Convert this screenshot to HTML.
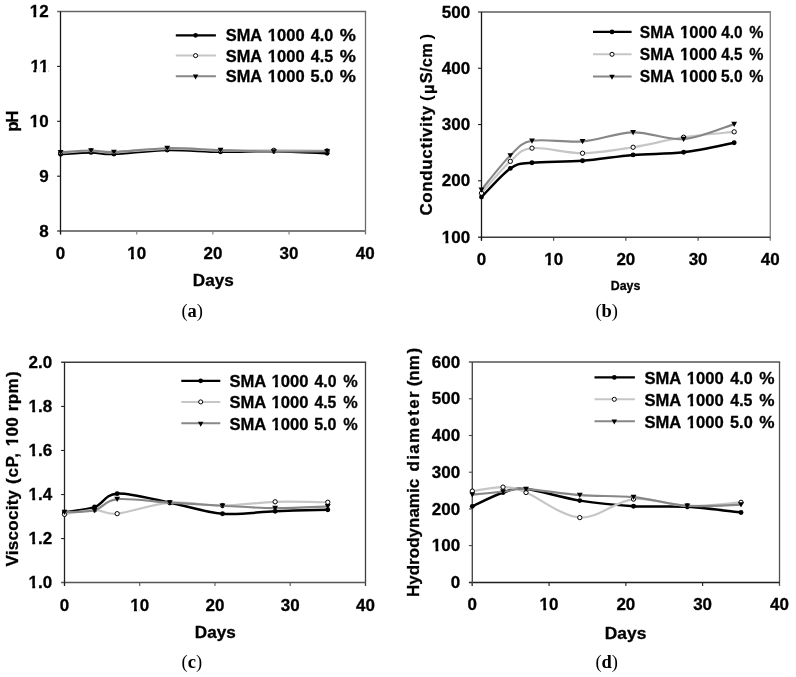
<!DOCTYPE html>
<html><head><meta charset="utf-8"><title>Figure</title>
<style>
html,body{margin:0;padding:0;background:#fff;}
svg{display:block;will-change:transform;}
text{font-family:"Liberation Sans", sans-serif;font-weight:bold;fill:#000;stroke:#000;stroke-width:0.3px;}
</style></head>
<body>
<svg width="796" height="677" viewBox="0 0 796 677">
<rect width="796" height="677" fill="#fff"/>
<line x1="57.10" y1="11.50" x2="366.15" y2="11.50" stroke="#666" stroke-width="1.30"/>
<line x1="365.50" y1="11.50" x2="365.50" y2="234.40" stroke="#6a6a6a" stroke-width="1.30"/>
<line x1="57.10" y1="231.00" x2="365.50" y2="231.00" stroke="#7d7d7d" stroke-width="2.00"/>
<line x1="60.60" y1="231.00" x2="60.60" y2="234.40" stroke="#7d7d7d" stroke-width="1.1"/>
<line x1="136.75" y1="231.00" x2="136.75" y2="234.40" stroke="#7d7d7d" stroke-width="1.1"/>
<line x1="212.90" y1="231.00" x2="212.90" y2="234.40" stroke="#7d7d7d" stroke-width="1.1"/>
<line x1="289.05" y1="231.00" x2="289.05" y2="234.40" stroke="#7d7d7d" stroke-width="1.1"/>
<line x1="60.50" y1="11.50" x2="60.50" y2="234.40" stroke="#151515" stroke-width="1.30"/>
<line x1="57.10" y1="176.20" x2="60.50" y2="176.20" stroke="#151515" stroke-width="1.1"/>
<line x1="57.10" y1="121.30" x2="60.50" y2="121.30" stroke="#151515" stroke-width="1.1"/>
<line x1="57.10" y1="66.40" x2="60.50" y2="66.40" stroke="#151515" stroke-width="1.1"/>
<text x="48.60" y="236.70" text-anchor="end" font-size="17">8</text>
<text x="48.60" y="181.80" text-anchor="end" font-size="17">9</text>
<text x="48.60" y="126.90" text-anchor="end" font-size="17">10</text>
<text x="48.60" y="72.00" text-anchor="end" font-size="17">11</text>
<text x="48.60" y="17.10" text-anchor="end" font-size="17">12</text>
<text x="60.60" y="259.10" text-anchor="middle" font-size="17">0</text>
<text x="136.75" y="259.10" text-anchor="middle" font-size="17">10</text>
<text x="212.90" y="259.10" text-anchor="middle" font-size="17">20</text>
<text x="289.05" y="259.10" text-anchor="middle" font-size="17">30</text>
<text x="365.20" y="259.10" text-anchor="middle" font-size="17">40</text>
<text transform="translate(18.10,121.00) rotate(-90)" text-anchor="middle" font-size="17" textLength="21.30" lengthAdjust="spacing">pH</text>
<text x="192.80" y="285.50" font-size="16.6" textLength="41.00" lengthAdjust="spacingAndGlyphs">Days</text>
<text x="181.40" y="316.90" style='font-family:"Liberation Serif", serif;font-weight:normal;stroke:none' font-size="18.5">(<tspan style="font-weight:bold">a</tspan>)</text>
<line x1="175.80" y1="35.30" x2="215.90" y2="35.30" stroke="#000000" stroke-width="2.30"/>
<circle cx="195.60" cy="35.30" r="2.33" fill="#000"/>
<text y="41.40" font-size="16.6"><tspan x="225.72" textLength="36.42" lengthAdjust="spacingAndGlyphs">SMA</tspan><tspan x="267.85" textLength="36.83" lengthAdjust="spacingAndGlyphs">1000</tspan><tspan x="310.85" textLength="22.43" lengthAdjust="spacingAndGlyphs">4.0</tspan><tspan x="339.69" textLength="16.15" lengthAdjust="spacingAndGlyphs">%</tspan></text>
<line x1="175.80" y1="55.60" x2="215.90" y2="55.60" stroke="#c6c6c6" stroke-width="2.00"/>
<circle cx="195.60" cy="55.60" r="2.04" fill="#fff" stroke="#000" stroke-width="1.0"/>
<text y="61.70" font-size="16.6"><tspan x="225.72" textLength="36.42" lengthAdjust="spacingAndGlyphs">SMA</tspan><tspan x="267.85" textLength="36.83" lengthAdjust="spacingAndGlyphs">1000</tspan><tspan x="310.85" textLength="22.21" lengthAdjust="spacingAndGlyphs">4.5</tspan><tspan x="339.69" textLength="16.15" lengthAdjust="spacingAndGlyphs">%</tspan></text>
<line x1="175.80" y1="76.20" x2="215.90" y2="76.20" stroke="#878787" stroke-width="2.00"/>
<path d="M192.84,74.62 L198.35,74.62 L195.60,79.56 Z" fill="#000"/>
<text y="82.30" font-size="16.6"><tspan x="225.72" textLength="36.42" lengthAdjust="spacingAndGlyphs">SMA</tspan><tspan x="267.85" textLength="36.83" lengthAdjust="spacingAndGlyphs">1000</tspan><tspan x="310.59" textLength="22.69" lengthAdjust="spacingAndGlyphs">5.0</tspan><tspan x="339.69" textLength="16.15" lengthAdjust="spacingAndGlyphs">%</tspan></text>
<rect x="29.68" y="123.87" width="3.68" height="4.23" fill="#fff"/>
<rect x="36.29" y="123.87" width="2.88" height="4.23" fill="#fff"/>
<rect x="29.68" y="68.97" width="3.68" height="4.23" fill="#fff"/>
<rect x="36.29" y="68.97" width="2.88" height="4.23" fill="#fff"/>
<rect x="39.14" y="68.97" width="3.68" height="4.23" fill="#fff"/>
<rect x="45.75" y="68.97" width="2.88" height="4.23" fill="#fff"/>
<rect x="29.68" y="14.07" width="3.68" height="4.23" fill="#fff"/>
<rect x="36.29" y="14.07" width="2.88" height="4.23" fill="#fff"/>
<rect x="127.29" y="256.07" width="3.68" height="4.23" fill="#fff"/>
<rect x="133.90" y="256.07" width="2.88" height="4.23" fill="#fff"/>
<rect x="267.85" y="38.41" width="3.57" height="4.19" fill="#fff"/>
<rect x="274.29" y="38.41" width="2.80" height="4.19" fill="#fff"/>
<rect x="267.85" y="58.71" width="3.57" height="4.19" fill="#fff"/>
<rect x="274.29" y="58.71" width="2.80" height="4.19" fill="#fff"/>
<rect x="267.85" y="79.31" width="3.57" height="4.19" fill="#fff"/>
<rect x="274.29" y="79.31" width="2.80" height="4.19" fill="#fff"/>
<path d="M60.60,154.20 C65.68,153.90 82.18,152.43 91.06,152.40 C99.94,152.37 101.21,154.40 113.91,154.00 C126.60,153.60 149.44,150.37 167.21,150.00 C184.98,149.63 202.75,151.60 220.51,151.80 C238.28,152.00 256.05,150.95 273.82,151.20 C291.59,151.45 318.24,152.95 327.12,153.30" fill="none" stroke="#000000" stroke-width="2.50" stroke-linejoin="round" stroke-linecap="round"/>
<circle cx="60.60" cy="154.20" r="2.45" fill="#000"/>
<circle cx="91.06" cy="152.40" r="2.45" fill="#000"/>
<circle cx="113.91" cy="154.00" r="2.45" fill="#000"/>
<circle cx="167.21" cy="150.00" r="2.45" fill="#000"/>
<circle cx="220.51" cy="151.80" r="2.45" fill="#000"/>
<circle cx="273.82" cy="151.20" r="2.45" fill="#000"/>
<circle cx="327.12" cy="153.30" r="2.45" fill="#000"/>
<path d="M60.60,152.80 C65.68,152.50 82.18,151.05 91.06,151.00 C99.94,150.95 101.21,152.87 113.91,152.50 C126.60,152.13 149.44,149.12 167.21,148.80 C184.98,148.48 202.75,150.35 220.51,150.60 C238.28,150.85 256.05,150.25 273.82,150.30 C291.59,150.35 318.24,150.80 327.12,150.90" fill="none" stroke="#c6c6c6" stroke-width="2.20" stroke-linejoin="round" stroke-linecap="round"/>
<circle cx="60.60" cy="152.80" r="2.15" fill="#fff" stroke="#000" stroke-width="1.0"/>
<circle cx="91.06" cy="151.00" r="2.15" fill="#fff" stroke="#000" stroke-width="1.0"/>
<circle cx="113.91" cy="152.50" r="2.15" fill="#fff" stroke="#000" stroke-width="1.0"/>
<circle cx="167.21" cy="148.80" r="2.15" fill="#fff" stroke="#000" stroke-width="1.0"/>
<circle cx="220.51" cy="150.60" r="2.15" fill="#fff" stroke="#000" stroke-width="1.0"/>
<circle cx="273.82" cy="150.30" r="2.15" fill="#fff" stroke="#000" stroke-width="1.0"/>
<circle cx="327.12" cy="150.90" r="2.15" fill="#fff" stroke="#000" stroke-width="1.0"/>
<path d="M60.60,152.30 C65.68,152.00 82.18,150.55 91.06,150.50 C99.94,150.45 101.21,152.38 113.91,152.00 C126.60,151.62 149.44,148.52 167.21,148.20 C184.98,147.88 202.75,149.55 220.51,150.10 C238.28,150.65 256.05,151.30 273.82,151.50 C291.59,151.70 318.24,151.33 327.12,151.30" fill="none" stroke="#878787" stroke-width="2.10" stroke-linejoin="round" stroke-linecap="round"/>
<path d="M57.70,149.96 L63.50,149.96 L60.60,155.16 Z" fill="#000"/>
<path d="M88.16,148.16 L93.96,148.16 L91.06,153.36 Z" fill="#000"/>
<path d="M111.00,149.66 L116.81,149.66 L113.91,154.86 Z" fill="#000"/>
<path d="M164.31,145.86 L170.11,145.86 L167.21,151.06 Z" fill="#000"/>
<path d="M217.61,147.76 L223.41,147.76 L220.51,152.96 Z" fill="#000"/>
<path d="M270.92,149.16 L276.72,149.16 L273.82,154.36 Z" fill="#000"/>
<path d="M324.23,148.96 L330.02,148.96 L327.12,154.16 Z" fill="#000"/>
<line x1="478.10" y1="12.00" x2="771.00" y2="12.00" stroke="#858585" stroke-width="1.80"/>
<line x1="770.30" y1="12.00" x2="770.30" y2="240.70" stroke="#888" stroke-width="1.40"/>
<line x1="478.10" y1="237.30" x2="770.30" y2="237.30" stroke="#3a3a3a" stroke-width="1.50"/>
<line x1="481.45" y1="237.30" x2="481.45" y2="240.70" stroke="#3a3a3a" stroke-width="1.1"/>
<line x1="553.66" y1="237.30" x2="553.66" y2="240.70" stroke="#3a3a3a" stroke-width="1.1"/>
<line x1="625.88" y1="237.30" x2="625.88" y2="240.70" stroke="#3a3a3a" stroke-width="1.1"/>
<line x1="698.09" y1="237.30" x2="698.09" y2="240.70" stroke="#3a3a3a" stroke-width="1.1"/>
<line x1="481.50" y1="12.00" x2="481.50" y2="240.70" stroke="#151515" stroke-width="1.30"/>
<line x1="478.10" y1="180.79" x2="481.50" y2="180.79" stroke="#151515" stroke-width="1.1"/>
<line x1="478.10" y1="124.53" x2="481.50" y2="124.53" stroke="#151515" stroke-width="1.1"/>
<line x1="478.10" y1="68.26" x2="481.50" y2="68.26" stroke="#151515" stroke-width="1.1"/>
<text x="470.20" y="242.65" text-anchor="end" font-size="17">100</text>
<text x="470.20" y="186.39" text-anchor="end" font-size="17">200</text>
<text x="470.20" y="130.12" text-anchor="end" font-size="17">300</text>
<text x="470.20" y="73.86" text-anchor="end" font-size="17">400</text>
<text x="470.20" y="17.60" text-anchor="end" font-size="17">500</text>
<text x="481.45" y="265.05" text-anchor="middle" font-size="17">0</text>
<text x="553.66" y="265.05" text-anchor="middle" font-size="17">10</text>
<text x="625.88" y="265.05" text-anchor="middle" font-size="17">20</text>
<text x="698.09" y="265.05" text-anchor="middle" font-size="17">30</text>
<text x="770.30" y="265.05" text-anchor="middle" font-size="17">40</text>
<text transform="translate(432.40,215.50) rotate(-90)" font-size="17" textLength="109.70" lengthAdjust="spacing">Conductivity</text>
<text transform="translate(432.40,101.00) rotate(-90)" font-size="17" textLength="6.20" lengthAdjust="spacing" style="stroke:none">(</text>
<text transform="translate(433.70,94.00) rotate(-90)" font-size="16.5" textLength="9.60" lengthAdjust="spacing">µ</text>
<text transform="translate(432.40,83.30) rotate(-90)" font-size="16.3" textLength="40.10" lengthAdjust="spacing">S/cm</text>
<text transform="translate(432.40,39.60) rotate(-90)" font-size="17" textLength="6.20" lengthAdjust="spacing" style="stroke:none">)</text>
<text x="610.70" y="290.10" font-size="13.4" textLength="29.60" lengthAdjust="spacingAndGlyphs">Days</text>
<text x="595.40" y="316.90" style='font-family:"Liberation Serif", serif;font-weight:normal;stroke:none' font-size="18.5">(<tspan style="font-weight:bold">b</tspan>)</text>
<line x1="593.00" y1="31.90" x2="631.60" y2="31.90" stroke="#000000" stroke-width="2.30"/>
<circle cx="612.00" cy="31.90" r="2.33" fill="#000"/>
<text y="37.90" font-size="17.2"><tspan x="639.80" textLength="34.65" lengthAdjust="spacingAndGlyphs">SMA</tspan><tspan x="680.02" textLength="36.99" lengthAdjust="spacingAndGlyphs">1000</tspan><tspan x="721.24" textLength="21.36" lengthAdjust="spacingAndGlyphs">4.0</tspan><tspan x="749.27" textLength="14.18" lengthAdjust="spacingAndGlyphs">%</tspan></text>
<line x1="593.00" y1="54.30" x2="631.60" y2="54.30" stroke="#c6c6c6" stroke-width="2.00"/>
<circle cx="612.00" cy="54.30" r="2.04" fill="#fff" stroke="#000" stroke-width="1.0"/>
<text y="60.30" font-size="17.2"><tspan x="639.80" textLength="34.65" lengthAdjust="spacingAndGlyphs">SMA</tspan><tspan x="680.02" textLength="36.99" lengthAdjust="spacingAndGlyphs">1000</tspan><tspan x="721.24" textLength="21.14" lengthAdjust="spacingAndGlyphs">4.5</tspan><tspan x="749.27" textLength="14.18" lengthAdjust="spacingAndGlyphs">%</tspan></text>
<line x1="593.00" y1="76.40" x2="631.60" y2="76.40" stroke="#878787" stroke-width="2.00"/>
<path d="M609.25,74.82 L614.75,74.82 L612.00,79.76 Z" fill="#000"/>
<text y="82.40" font-size="17.2"><tspan x="639.80" textLength="34.65" lengthAdjust="spacingAndGlyphs">SMA</tspan><tspan x="680.02" textLength="36.99" lengthAdjust="spacingAndGlyphs">1000</tspan><tspan x="720.97" textLength="21.63" lengthAdjust="spacingAndGlyphs">5.0</tspan><tspan x="749.27" textLength="14.18" lengthAdjust="spacingAndGlyphs">%</tspan></text>
<rect x="441.83" y="239.62" width="3.68" height="4.23" fill="#fff"/>
<rect x="448.44" y="239.62" width="2.88" height="4.23" fill="#fff"/>
<rect x="544.20" y="262.02" width="3.68" height="4.23" fill="#fff"/>
<rect x="550.81" y="262.02" width="2.88" height="4.23" fill="#fff"/>
<rect x="680.01" y="34.84" width="3.59" height="4.26" fill="#fff"/>
<rect x="686.48" y="34.84" width="2.81" height="4.26" fill="#fff"/>
<rect x="680.01" y="57.24" width="3.59" height="4.26" fill="#fff"/>
<rect x="686.48" y="57.24" width="2.81" height="4.26" fill="#fff"/>
<rect x="680.01" y="79.34" width="3.59" height="4.26" fill="#fff"/>
<rect x="686.48" y="79.34" width="2.81" height="4.26" fill="#fff"/>
<path d="M481.45,197.10 C486.26,192.32 501.91,174.13 510.33,168.41 C518.76,162.69 519.96,164.06 532.00,162.78 C544.03,161.51 565.70,162.07 582.55,160.76 C599.40,159.45 616.25,156.31 633.10,154.91 C649.95,153.50 666.80,154.33 683.64,152.32 C700.49,150.30 725.77,144.40 734.19,142.81" fill="none" stroke="#000000" stroke-width="2.50" stroke-linejoin="round" stroke-linecap="round"/>
<circle cx="481.45" cy="197.10" r="2.45" fill="#000"/>
<circle cx="510.33" cy="168.41" r="2.45" fill="#000"/>
<circle cx="532.00" cy="162.78" r="2.45" fill="#000"/>
<circle cx="582.55" cy="160.76" r="2.45" fill="#000"/>
<circle cx="633.10" cy="154.91" r="2.45" fill="#000"/>
<circle cx="683.64" cy="152.32" r="2.45" fill="#000"/>
<circle cx="734.19" cy="142.81" r="2.45" fill="#000"/>
<path d="M481.45,193.17 C486.26,187.86 501.91,168.82 510.33,161.32 C518.76,153.82 519.96,149.51 532.00,148.16 C544.03,146.80 565.70,153.37 582.55,153.22 C599.40,153.07 616.25,149.92 633.10,147.26 C649.95,144.59 666.80,139.81 683.64,137.24 C700.49,134.67 725.77,132.74 734.19,131.84" fill="none" stroke="#c6c6c6" stroke-width="2.20" stroke-linejoin="round" stroke-linecap="round"/>
<circle cx="481.45" cy="193.17" r="2.15" fill="#fff" stroke="#000" stroke-width="1.0"/>
<circle cx="510.33" cy="161.32" r="2.15" fill="#fff" stroke="#000" stroke-width="1.0"/>
<circle cx="532.00" cy="148.16" r="2.15" fill="#fff" stroke="#000" stroke-width="1.0"/>
<circle cx="582.55" cy="153.22" r="2.15" fill="#fff" stroke="#000" stroke-width="1.0"/>
<circle cx="633.10" cy="147.26" r="2.15" fill="#fff" stroke="#000" stroke-width="1.0"/>
<circle cx="683.64" cy="137.24" r="2.15" fill="#fff" stroke="#000" stroke-width="1.0"/>
<circle cx="734.19" cy="131.84" r="2.15" fill="#fff" stroke="#000" stroke-width="1.0"/>
<path d="M481.45,189.79 C486.26,184.07 501.91,163.63 510.33,155.47 C518.76,147.31 519.96,143.19 532.00,140.84 C544.03,138.50 565.70,142.81 582.55,141.40 C599.40,140.00 616.25,132.78 633.10,132.40 C649.95,132.03 666.80,140.53 683.64,139.15 C700.49,137.77 725.77,126.63 734.19,124.13" fill="none" stroke="#878787" stroke-width="2.10" stroke-linejoin="round" stroke-linecap="round"/>
<path d="M478.55,187.45 L484.35,187.45 L481.45,192.65 Z" fill="#000"/>
<path d="M507.44,153.13 L513.24,153.13 L510.33,158.33 Z" fill="#000"/>
<path d="M529.10,138.50 L534.90,138.50 L532.00,143.70 Z" fill="#000"/>
<path d="M579.65,139.06 L585.45,139.06 L582.55,144.26 Z" fill="#000"/>
<path d="M630.20,130.06 L636.00,130.06 L633.10,135.26 Z" fill="#000"/>
<path d="M680.75,136.81 L686.54,136.81 L683.64,142.01 Z" fill="#000"/>
<path d="M731.29,121.79 L737.09,121.79 L734.19,126.99 Z" fill="#000"/>
<line x1="61.10" y1="362.30" x2="366.15" y2="362.30" stroke="#3c3c3c" stroke-width="1.40"/>
<line x1="365.50" y1="362.30" x2="365.50" y2="586.00" stroke="#3e3e3e" stroke-width="1.30"/>
<line x1="61.10" y1="582.60" x2="365.50" y2="582.60" stroke="#555" stroke-width="1.50"/>
<line x1="64.50" y1="582.60" x2="64.50" y2="586.00" stroke="#555" stroke-width="1.1"/>
<line x1="139.72" y1="582.60" x2="139.72" y2="586.00" stroke="#555" stroke-width="1.1"/>
<line x1="214.95" y1="582.60" x2="214.95" y2="586.00" stroke="#555" stroke-width="1.1"/>
<line x1="290.18" y1="582.60" x2="290.18" y2="586.00" stroke="#555" stroke-width="1.1"/>
<line x1="64.50" y1="362.30" x2="64.50" y2="586.00" stroke="#222" stroke-width="1.30"/>
<line x1="61.10" y1="538.56" x2="64.50" y2="538.56" stroke="#222" stroke-width="1.1"/>
<line x1="61.10" y1="494.52" x2="64.50" y2="494.52" stroke="#222" stroke-width="1.1"/>
<line x1="61.10" y1="450.48" x2="64.50" y2="450.48" stroke="#222" stroke-width="1.1"/>
<line x1="61.10" y1="406.44" x2="64.50" y2="406.44" stroke="#222" stroke-width="1.1"/>
<text x="52.20" y="588.20" text-anchor="end" font-size="17">1.0</text>
<text x="52.20" y="544.16" text-anchor="end" font-size="17">1.2</text>
<text x="52.20" y="500.12" text-anchor="end" font-size="17">1.4</text>
<text x="52.20" y="456.08" text-anchor="end" font-size="17">1.6</text>
<text x="52.20" y="412.04" text-anchor="end" font-size="17">1.8</text>
<text x="52.20" y="368.00" text-anchor="end" font-size="17">2.0</text>
<text x="64.50" y="610.60" text-anchor="middle" font-size="17">0</text>
<text x="139.72" y="610.60" text-anchor="middle" font-size="17">10</text>
<text x="214.95" y="610.60" text-anchor="middle" font-size="17">20</text>
<text x="290.18" y="610.60" text-anchor="middle" font-size="17">30</text>
<text x="365.40" y="610.60" text-anchor="middle" font-size="17">40</text>
<g transform="translate(18.30,566.62) rotate(-90)"><text x="0" y="0" font-size="17" textLength="76.71" lengthAdjust="spacing">Viscocity</text></g>
<g transform="translate(18.30,483.95) rotate(-90)"><text x="0" y="0" font-size="17" textLength="5.56" lengthAdjust="spacing">(</text></g>
<g transform="translate(18.30,477.56) rotate(-90)"><text x="0" y="0" font-size="17" textLength="24.60" lengthAdjust="spacing">cP,</text></g>
<g transform="translate(18.30,446.37) rotate(-90)"><text x="0" y="0" font-size="17" textLength="29.07" lengthAdjust="spacing">100</text><rect x="-0.01" y="-3.03" width="3.68" height="4.23" fill="#fff"/><rect x="6.60" y="-3.03" width="2.88" height="4.23" fill="#fff"/></g>
<g transform="translate(18.30,411.22) rotate(-90)"><text x="0" y="0" font-size="17" textLength="32.77" lengthAdjust="spacing">rpm</text></g>
<g transform="translate(18.30,376.92) rotate(-90)"><text x="0" y="0" font-size="17" textLength="4.46" lengthAdjust="spacing">)</text></g>
<text x="194.80" y="637.90" font-size="16.6" textLength="41.00" lengthAdjust="spacingAndGlyphs">Days</text>
<text x="181.50" y="668.00" style='font-family:"Liberation Serif", serif;font-weight:normal;stroke:none' font-size="18.5">(<tspan style="font-weight:bold">c</tspan>)</text>
<line x1="181.30" y1="380.80" x2="220.30" y2="380.80" stroke="#000000" stroke-width="2.30"/>
<circle cx="200.70" cy="380.80" r="2.33" fill="#000"/>
<text y="387.20" font-size="16.9"><tspan x="229.41" textLength="36.83" lengthAdjust="spacingAndGlyphs">SMA</tspan><tspan x="271.44" textLength="36.96" lengthAdjust="spacingAndGlyphs">1000</tspan><tspan x="314.44" textLength="22.05" lengthAdjust="spacingAndGlyphs">4.0</tspan><tspan x="343.28" textLength="14.47" lengthAdjust="spacingAndGlyphs">%</tspan></text>
<line x1="181.30" y1="401.90" x2="220.30" y2="401.90" stroke="#c6c6c6" stroke-width="2.00"/>
<circle cx="200.70" cy="401.90" r="2.04" fill="#fff" stroke="#000" stroke-width="1.0"/>
<text y="408.30" font-size="16.9"><tspan x="229.41" textLength="36.83" lengthAdjust="spacingAndGlyphs">SMA</tspan><tspan x="271.44" textLength="36.96" lengthAdjust="spacingAndGlyphs">1000</tspan><tspan x="314.44" textLength="21.83" lengthAdjust="spacingAndGlyphs">4.5</tspan><tspan x="343.28" textLength="14.47" lengthAdjust="spacingAndGlyphs">%</tspan></text>
<line x1="181.30" y1="423.30" x2="220.30" y2="423.30" stroke="#878787" stroke-width="2.00"/>
<path d="M197.94,421.72 L203.45,421.72 L200.70,426.66 Z" fill="#000"/>
<text y="429.70" font-size="16.9"><tspan x="229.41" textLength="36.83" lengthAdjust="spacingAndGlyphs">SMA</tspan><tspan x="271.44" textLength="36.96" lengthAdjust="spacingAndGlyphs">1000</tspan><tspan x="314.18" textLength="22.31" lengthAdjust="spacingAndGlyphs">5.0</tspan><tspan x="343.28" textLength="14.47" lengthAdjust="spacingAndGlyphs">%</tspan></text>
<rect x="28.56" y="585.17" width="3.68" height="4.23" fill="#fff"/>
<rect x="35.17" y="585.17" width="2.88" height="4.23" fill="#fff"/>
<rect x="28.56" y="541.13" width="3.68" height="4.23" fill="#fff"/>
<rect x="35.17" y="541.13" width="2.88" height="4.23" fill="#fff"/>
<rect x="28.56" y="497.09" width="3.68" height="4.23" fill="#fff"/>
<rect x="35.17" y="497.09" width="2.88" height="4.23" fill="#fff"/>
<rect x="28.56" y="453.05" width="3.68" height="4.23" fill="#fff"/>
<rect x="35.17" y="453.05" width="2.88" height="4.23" fill="#fff"/>
<rect x="28.56" y="409.01" width="3.68" height="4.23" fill="#fff"/>
<rect x="35.17" y="409.01" width="2.88" height="4.23" fill="#fff"/>
<rect x="130.26" y="607.57" width="3.68" height="4.23" fill="#fff"/>
<rect x="136.87" y="607.57" width="2.88" height="4.23" fill="#fff"/>
<rect x="271.43" y="384.18" width="3.59" height="4.22" fill="#fff"/>
<rect x="277.89" y="384.18" width="2.81" height="4.22" fill="#fff"/>
<rect x="271.43" y="405.28" width="3.59" height="4.22" fill="#fff"/>
<rect x="277.89" y="405.28" width="2.81" height="4.22" fill="#fff"/>
<rect x="271.43" y="426.68" width="3.59" height="4.22" fill="#fff"/>
<rect x="277.89" y="426.68" width="2.81" height="4.22" fill="#fff"/>
<path d="M64.50,512.14 C69.52,511.29 85.81,510.15 94.59,507.07 C103.37,503.99 104.62,494.37 117.16,493.64 C129.69,492.91 152.26,499.33 169.81,502.67 C187.37,506.01 204.92,512.25 222.47,513.68 C240.03,515.11 257.58,511.92 275.13,511.26 C292.68,510.59 319.01,509.97 327.79,509.71" fill="none" stroke="#000000" stroke-width="2.50" stroke-linejoin="round" stroke-linecap="round"/>
<circle cx="64.50" cy="512.14" r="2.45" fill="#000"/>
<circle cx="94.59" cy="507.07" r="2.45" fill="#000"/>
<circle cx="117.16" cy="493.64" r="2.45" fill="#000"/>
<circle cx="169.81" cy="502.67" r="2.45" fill="#000"/>
<circle cx="222.47" cy="513.68" r="2.45" fill="#000"/>
<circle cx="275.13" cy="511.26" r="2.45" fill="#000"/>
<circle cx="327.79" cy="509.71" r="2.45" fill="#000"/>
<path d="M64.50,514.34 C69.52,513.60 85.81,510.04 94.59,509.93 C103.37,509.82 104.62,514.89 117.16,513.68 C129.69,512.47 152.26,504.03 169.81,502.67 C187.37,501.31 204.92,505.68 222.47,505.53 C240.03,505.38 257.58,502.34 275.13,501.79 C292.68,501.24 319.01,502.15 327.79,502.23" fill="none" stroke="#c6c6c6" stroke-width="2.20" stroke-linejoin="round" stroke-linecap="round"/>
<circle cx="64.50" cy="514.34" r="2.15" fill="#fff" stroke="#000" stroke-width="1.0"/>
<circle cx="94.59" cy="509.93" r="2.15" fill="#fff" stroke="#000" stroke-width="1.0"/>
<circle cx="117.16" cy="513.68" r="2.15" fill="#fff" stroke="#000" stroke-width="1.0"/>
<circle cx="169.81" cy="502.67" r="2.15" fill="#fff" stroke="#000" stroke-width="1.0"/>
<circle cx="222.47" cy="505.53" r="2.15" fill="#fff" stroke="#000" stroke-width="1.0"/>
<circle cx="275.13" cy="501.79" r="2.15" fill="#fff" stroke="#000" stroke-width="1.0"/>
<circle cx="327.79" cy="502.23" r="2.15" fill="#fff" stroke="#000" stroke-width="1.0"/>
<path d="M64.50,512.14 C69.52,511.81 85.81,512.32 94.59,510.15 C103.37,507.99 104.62,500.39 117.16,499.14 C129.69,497.90 152.26,501.57 169.81,502.67 C187.37,503.77 204.92,504.83 222.47,505.75 C240.03,506.67 257.58,508.06 275.13,508.17 C292.68,508.28 319.01,506.70 327.79,506.41" fill="none" stroke="#878787" stroke-width="2.10" stroke-linejoin="round" stroke-linecap="round"/>
<path d="M61.60,509.80 L67.40,509.80 L64.50,515.00 Z" fill="#000"/>
<path d="M91.69,507.81 L97.49,507.81 L94.59,513.01 Z" fill="#000"/>
<path d="M114.26,496.80 L120.06,496.80 L117.16,502.00 Z" fill="#000"/>
<path d="M166.91,500.33 L172.72,500.33 L169.81,505.53 Z" fill="#000"/>
<path d="M219.57,503.41 L225.37,503.41 L222.47,508.61 Z" fill="#000"/>
<path d="M272.23,505.83 L278.03,505.83 L275.13,511.03 Z" fill="#000"/>
<path d="M324.89,504.07 L330.69,504.07 L327.79,509.27 Z" fill="#000"/>
<line x1="468.90" y1="362.00" x2="780.15" y2="362.00" stroke="#7d7d7d" stroke-width="1.80"/>
<line x1="779.50" y1="362.00" x2="779.50" y2="585.90" stroke="#505050" stroke-width="1.30"/>
<line x1="468.90" y1="582.50" x2="779.50" y2="582.50" stroke="#1e1e1e" stroke-width="1.30"/>
<line x1="472.30" y1="582.50" x2="472.30" y2="585.90" stroke="#1e1e1e" stroke-width="1.1"/>
<line x1="549.08" y1="582.50" x2="549.08" y2="585.90" stroke="#1e1e1e" stroke-width="1.1"/>
<line x1="625.85" y1="582.50" x2="625.85" y2="585.90" stroke="#1e1e1e" stroke-width="1.1"/>
<line x1="702.62" y1="582.50" x2="702.62" y2="585.90" stroke="#1e1e1e" stroke-width="1.1"/>
<line x1="472.30" y1="362.00" x2="472.30" y2="585.90" stroke="#4a4a4a" stroke-width="1.40"/>
<line x1="468.90" y1="545.60" x2="472.30" y2="545.60" stroke="#4a4a4a" stroke-width="1.1"/>
<line x1="468.90" y1="508.90" x2="472.30" y2="508.90" stroke="#4a4a4a" stroke-width="1.1"/>
<line x1="468.90" y1="472.20" x2="472.30" y2="472.20" stroke="#4a4a4a" stroke-width="1.1"/>
<line x1="468.90" y1="435.50" x2="472.30" y2="435.50" stroke="#4a4a4a" stroke-width="1.1"/>
<line x1="468.90" y1="398.80" x2="472.30" y2="398.80" stroke="#4a4a4a" stroke-width="1.1"/>
<text x="460.20" y="587.90" text-anchor="end" font-size="17">0</text>
<text x="460.20" y="551.20" text-anchor="end" font-size="17">100</text>
<text x="460.20" y="514.50" text-anchor="end" font-size="17">200</text>
<text x="460.20" y="477.80" text-anchor="end" font-size="17">300</text>
<text x="460.20" y="441.10" text-anchor="end" font-size="17">400</text>
<text x="460.20" y="404.40" text-anchor="end" font-size="17">500</text>
<text x="460.20" y="367.70" text-anchor="end" font-size="17">600</text>
<text x="472.30" y="610.30" text-anchor="middle" font-size="17">0</text>
<text x="549.08" y="610.30" text-anchor="middle" font-size="17">10</text>
<text x="625.85" y="610.30" text-anchor="middle" font-size="17">20</text>
<text x="702.62" y="610.30" text-anchor="middle" font-size="17">30</text>
<text x="779.40" y="610.30" text-anchor="middle" font-size="17">40</text>
<g transform="translate(418.60,597.04) rotate(-90)"><text x="0" y="0" font-size="17" textLength="118.24" lengthAdjust="spacing">Hydrodynamic</text></g>
<g transform="translate(418.60,471.40) rotate(-90)"><text x="0" y="0" font-size="17" textLength="80.05" lengthAdjust="spacing">diameter</text></g>
<g transform="translate(418.60,386.25) rotate(-90)"><text x="0" y="0" font-size="17" textLength="4.86" lengthAdjust="spacing">(</text></g>
<g transform="translate(418.60,380.72) rotate(-90)"><text x="0" y="0" font-size="17" textLength="25.67" lengthAdjust="spacing">nm</text></g>
<g transform="translate(418.60,353.42) rotate(-90)"><text x="0" y="0" font-size="17" textLength="5.76" lengthAdjust="spacing">)</text></g>
<text x="604.80" y="638.80" font-size="16.6" textLength="41.50" lengthAdjust="spacingAndGlyphs">Days</text>
<text x="595.40" y="668.00" style='font-family:"Liberation Serif", serif;font-weight:normal;stroke:none' font-size="18.5">(<tspan style="font-weight:bold">d</tspan>)</text>
<line x1="594.50" y1="377.40" x2="634.90" y2="377.40" stroke="#000000" stroke-width="2.30"/>
<circle cx="614.30" cy="377.40" r="2.33" fill="#000"/>
<text y="383.90" font-size="17.1"><tspan x="644.41" textLength="36.84" lengthAdjust="spacingAndGlyphs">SMA</tspan><tspan x="686.72" textLength="36.98" lengthAdjust="spacingAndGlyphs">1000</tspan><tspan x="730.34" textLength="22.36" lengthAdjust="spacingAndGlyphs">4.0</tspan><tspan x="759.17" textLength="15.28" lengthAdjust="spacingAndGlyphs">%</tspan></text>
<line x1="594.50" y1="399.30" x2="634.90" y2="399.30" stroke="#c6c6c6" stroke-width="2.00"/>
<circle cx="614.30" cy="399.30" r="2.04" fill="#fff" stroke="#000" stroke-width="1.0"/>
<text y="405.80" font-size="17.1"><tspan x="644.41" textLength="36.84" lengthAdjust="spacingAndGlyphs">SMA</tspan><tspan x="686.72" textLength="36.98" lengthAdjust="spacingAndGlyphs">1000</tspan><tspan x="730.34" textLength="22.13" lengthAdjust="spacingAndGlyphs">4.5</tspan><tspan x="759.17" textLength="15.28" lengthAdjust="spacingAndGlyphs">%</tspan></text>
<line x1="594.50" y1="421.20" x2="634.90" y2="421.20" stroke="#878787" stroke-width="2.00"/>
<path d="M611.54,419.62 L617.05,419.62 L614.30,424.56 Z" fill="#000"/>
<text y="427.70" font-size="17.1"><tspan x="644.41" textLength="36.84" lengthAdjust="spacingAndGlyphs">SMA</tspan><tspan x="686.72" textLength="36.98" lengthAdjust="spacingAndGlyphs">1000</tspan><tspan x="730.07" textLength="22.63" lengthAdjust="spacingAndGlyphs">5.0</tspan><tspan x="759.17" textLength="15.28" lengthAdjust="spacingAndGlyphs">%</tspan></text>
<rect x="431.83" y="548.17" width="3.68" height="4.23" fill="#fff"/>
<rect x="438.44" y="548.17" width="2.88" height="4.23" fill="#fff"/>
<rect x="539.61" y="607.27" width="3.68" height="4.23" fill="#fff"/>
<rect x="546.22" y="607.27" width="2.88" height="4.23" fill="#fff"/>
<rect x="686.71" y="380.85" width="3.59" height="4.25" fill="#fff"/>
<rect x="693.18" y="380.85" width="2.81" height="4.25" fill="#fff"/>
<rect x="686.71" y="402.75" width="3.59" height="4.25" fill="#fff"/>
<rect x="693.18" y="402.75" width="2.81" height="4.25" fill="#fff"/>
<rect x="686.71" y="424.65" width="3.59" height="4.25" fill="#fff"/>
<rect x="693.18" y="424.65" width="2.81" height="4.25" fill="#fff"/>
<path d="M472.30,506.33 C477.42,504.03 494.05,495.37 503.01,492.50 C511.97,489.62 513.25,487.73 526.04,489.08 C538.84,490.43 561.87,497.76 579.78,500.61 C597.70,503.46 615.61,505.15 633.53,506.18 C651.44,507.22 669.36,505.74 687.27,506.81 C705.18,507.87 732.06,511.61 741.01,512.57" fill="none" stroke="#000000" stroke-width="2.50" stroke-linejoin="round" stroke-linecap="round"/>
<circle cx="472.30" cy="506.33" r="2.45" fill="#000"/>
<circle cx="503.01" cy="492.50" r="2.45" fill="#000"/>
<circle cx="526.04" cy="489.08" r="2.45" fill="#000"/>
<circle cx="579.78" cy="500.61" r="2.45" fill="#000"/>
<circle cx="633.53" cy="506.18" r="2.45" fill="#000"/>
<circle cx="687.27" cy="506.81" r="2.45" fill="#000"/>
<circle cx="741.01" cy="512.57" r="2.45" fill="#000"/>
<path d="M472.30,491.10 C477.42,490.43 494.05,486.87 503.01,487.10 C511.97,487.33 513.25,487.41 526.04,492.50 C538.84,497.58 561.87,516.50 579.78,517.60 C597.70,518.70 615.61,501.06 633.53,499.10 C651.44,497.14 669.36,505.29 687.27,505.82 C705.18,506.35 732.06,502.88 741.01,502.29" fill="none" stroke="#c6c6c6" stroke-width="2.20" stroke-linejoin="round" stroke-linecap="round"/>
<circle cx="472.30" cy="491.10" r="2.15" fill="#fff" stroke="#000" stroke-width="1.0"/>
<circle cx="503.01" cy="487.10" r="2.15" fill="#fff" stroke="#000" stroke-width="1.0"/>
<circle cx="526.04" cy="492.50" r="2.15" fill="#fff" stroke="#000" stroke-width="1.0"/>
<circle cx="579.78" cy="517.60" r="2.15" fill="#fff" stroke="#000" stroke-width="1.0"/>
<circle cx="633.53" cy="499.10" r="2.15" fill="#fff" stroke="#000" stroke-width="1.0"/>
<circle cx="687.27" cy="505.82" r="2.15" fill="#fff" stroke="#000" stroke-width="1.0"/>
<circle cx="741.01" cy="502.29" r="2.15" fill="#fff" stroke="#000" stroke-width="1.0"/>
<path d="M472.30,494.59 C477.42,494.10 494.05,492.57 503.01,491.65 C511.97,490.73 513.25,488.51 526.04,489.08 C538.84,489.66 561.87,493.76 579.78,495.10 C597.70,496.45 615.61,495.37 633.53,497.16 C651.44,498.94 669.36,504.58 687.27,505.82 C705.18,507.06 732.06,504.81 741.01,504.61" fill="none" stroke="#878787" stroke-width="2.10" stroke-linejoin="round" stroke-linecap="round"/>
<path d="M469.40,492.25 L475.20,492.25 L472.30,497.45 Z" fill="#000"/>
<path d="M500.11,489.31 L505.91,489.31 L503.01,494.51 Z" fill="#000"/>
<path d="M523.14,486.74 L528.94,486.74 L526.04,491.94 Z" fill="#000"/>
<path d="M576.88,492.76 L582.68,492.76 L579.78,497.96 Z" fill="#000"/>
<path d="M630.63,494.82 L636.43,494.82 L633.53,500.02 Z" fill="#000"/>
<path d="M684.37,503.48 L690.17,503.48 L687.27,508.68 Z" fill="#000"/>
<path d="M738.11,502.27 L743.91,502.27 L741.01,507.47 Z" fill="#000"/>
</svg>
</body></html>
